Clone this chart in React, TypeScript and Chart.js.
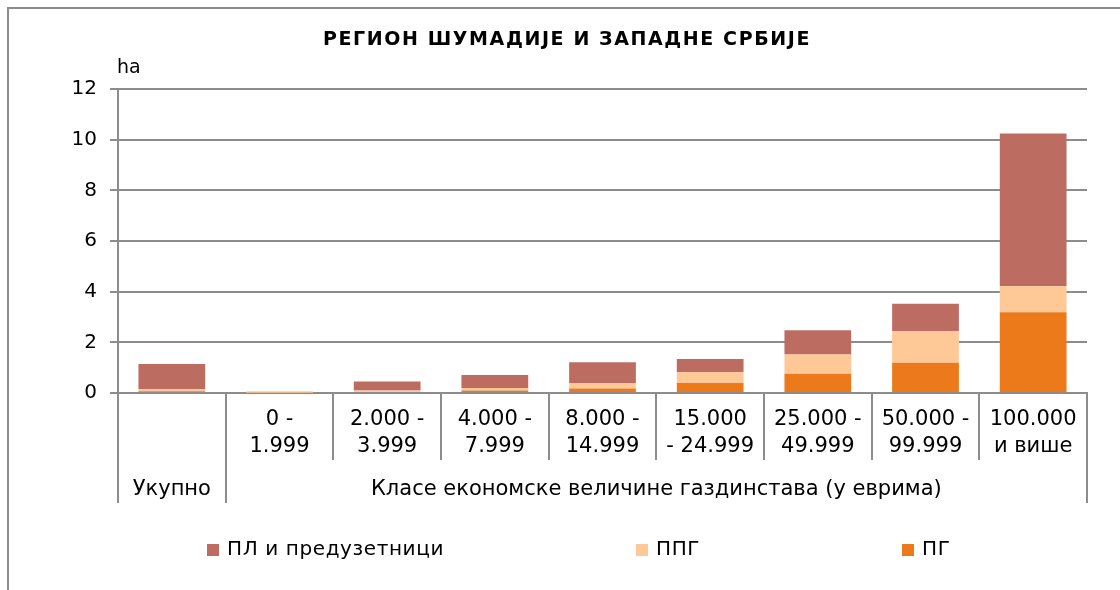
import React, { useEffect, useRef } from "react";
import { Chart, registerables } from "chart.js";

Chart.register(...registerables);

const TITLE = "РЕГИОН ШУМАДИЈЕ И ЗАПАДНЕ СРБИЈЕ";
const Y_UNIT = "ha";
const categories: (string | string[])[] = [
  "",
  ["0 -", "1.999"],
  ["2.000 -", "3.999"],
  ["4.000 -", "7.999"],
  ["8.000 -", "14.999"],
  ["15.000", "- 24.999"],
  ["25.000 -", "49.999"],
  ["50.000 -", "99.999"],
  ["100.000", "и више"],
];
const groupLabels = ["Укупно", "Класе економске величине газдинстава (у еврима)"];
const groupSpans = [1, 8];

const seriesNames = ["ПГ", "ППГ", "ПЛ и предузетници"];
const pgValues = [0.07, 0.0, 0.04, 0.1, 0.18, 0.39, 0.76, 1.19, 3.19];
const ppgValues = [0.09, 0.01, 0.06, 0.1, 0.21, 0.43, 0.76, 1.26, 1.02];
const plValues = [0.98, 0.04, 0.35, 0.51, 0.82, 0.52, 0.96, 1.07, 6.03];
const yTicks = [0, 2, 4, 6, 8, 10, 12];

const COLORS = ["#EC7A1A", "#FFC897", "#BD6C62"];
const GRID = "#8C8C8C";
const FONT = "'DejaVu Sans', Verdana, sans-serif";

const decorPlugin = {
  id: "decor",
  afterDraw(chart: any) {
    const ctx = chart.ctx;
    const xs = chart.scales.x;
    const area = chart.chartArea;
    ctx.save();
    // outer border
    ctx.strokeStyle = GRID;
    ctx.lineWidth = 2;
    ctx.beginPath();
    ctx.moveTo(8, 600);
    ctx.lineTo(8, 8);
    ctx.lineTo(1125, 8);
    ctx.stroke();

    // title
    ctx.fillStyle = "#000";
    ctx.font = `bold 19px ${FONT}`;
    ctx.letterSpacing = "1.6px";
    ctx.textAlign = "center";
    ctx.textBaseline = "middle";
    ctx.fillText(TITLE, 567, 40);
    ctx.letterSpacing = "0px";

    // unit
    ctx.font = `19px ${FONT}`;
    ctx.textAlign = "left";
    ctx.fillText(Y_UNIT, 117, 68);

    // category dividers
    const n = categories.length;
    const half = (xs.getPixelForValue(1) - xs.getPixelForValue(0)) / 2;
    const longIdx = new Set<number>([0]);
    let acc = 0;
    groupSpans.forEach((s) => {
      acc += s;
      longIdx.add(acc);
    });
    ctx.strokeStyle = GRID;
    ctx.lineWidth = 2;
    for (let i = 0; i <= n; i++) {
      const x = Math.round(xs.getPixelForValue(i) - half);
      const y2 = longIdx.has(i) ? xs.bottom : area.bottom + 67;
      ctx.beginPath();
      ctx.moveTo(x, area.bottom);
      ctx.lineTo(x, y2);
      ctx.stroke();
    }

    // group labels
    ctx.fillStyle = "#000";
    ctx.font = `21px ${FONT}`;
    ctx.letterSpacing = "0px";
    ctx.textAlign = "center";
    ctx.textBaseline = "middle";
    let start = 0;
    groupLabels.forEach((g, gi) => {
      const end = start + groupSpans[gi] - 1;
      const x0 = xs.getPixelForValue(start) - half;
      const x1 = xs.getPixelForValue(end) + half;
      ctx.fillText(g, (x0 + x1) / 2, area.bottom + 97);
      start = end + 1;
    });

    // legend (reverse of stacking order)
    const legendX = [207, 636, 902];
    const ly = 550;
    ctx.font = `20px ${FONT}`;
    ctx.letterSpacing = "0.6px";
    ctx.textAlign = "left";
    for (let k = 0; k < 3; k++) {
      const di = 2 - k;
      ctx.fillStyle = COLORS[di];
      ctx.fillRect(legendX[k], ly - 6, 12, 12);
      ctx.fillStyle = "#000";
      ctx.fillText(chart.data.datasets[di].label, legendX[k] + 20, ly);
    }
    ctx.letterSpacing = "0px";
    ctx.restore();
  },
};

export default function App() {
  const ref = useRef<HTMLCanvasElement | null>(null);
  useEffect(() => {
    if (!ref.current) return;
    const chart = new Chart(ref.current, {
      type: "bar",
      data: {
        labels: categories as any,
        datasets: [
          { label: seriesNames[0], data: pgValues, backgroundColor: COLORS[0] },
          { label: seriesNames[1], data: ppgValues, backgroundColor: COLORS[1] },
          { label: seriesNames[2], data: plValues, backgroundColor: COLORS[2] },
        ],
      },
      options: {
        animation: false,
        responsive: false,
        devicePixelRatio: 1,
        layout: { padding: { left: 0, right: 33, top: 89, bottom: 87 } },
        plugins: {
          legend: { display: false },
          title: { display: false },
          tooltip: { enabled: false },
        },
        datasets: {
          bar: { categoryPercentage: 1, barPercentage: 0.62, borderWidth: 0 },
        },
        scales: {
          x: {
            stacked: true,
            grid: { display: false, drawTicks: false },
            border: { display: true, color: GRID, width: 2 },
            ticks: {
              color: "#000",
              font: { family: FONT, size: 21, lineHeight: 1.3 },
              padding: 13,
              maxRotation: 0,
              autoSkip: false,
            },
            afterFit(scale: any) {
              scale.height = 110;
            },
          },
          y: {
            stacked: true,
            min: 0,
            max: 12,
            afterBuildTicks(scale: any) {
              scale.ticks = yTicks.map((v) => ({ value: v }));
            },
            grid: { color: GRID, lineWidth: 2, tickLength: 8, drawTicks: true },
            border: { display: true, color: GRID, width: 2 },
            ticks: {
              color: "#000",
              font: { family: FONT, size: 20 },
              padding: 13,
            },
            afterFit(scale: any) {
              scale.width = 118;
            },
          },
        },
      },
      plugins: [decorPlugin],
    });
    return () => chart.destroy();
  }, []);
  return (
    <div style={{ position: "fixed", left: 0, top: 0, width: 1120, height: 590, background: "#fff" }}>
      <canvas ref={ref} width={1120} height={590} style={{ display: "block", width: 1120, height: 590 }} />
    </div>
  );
}
